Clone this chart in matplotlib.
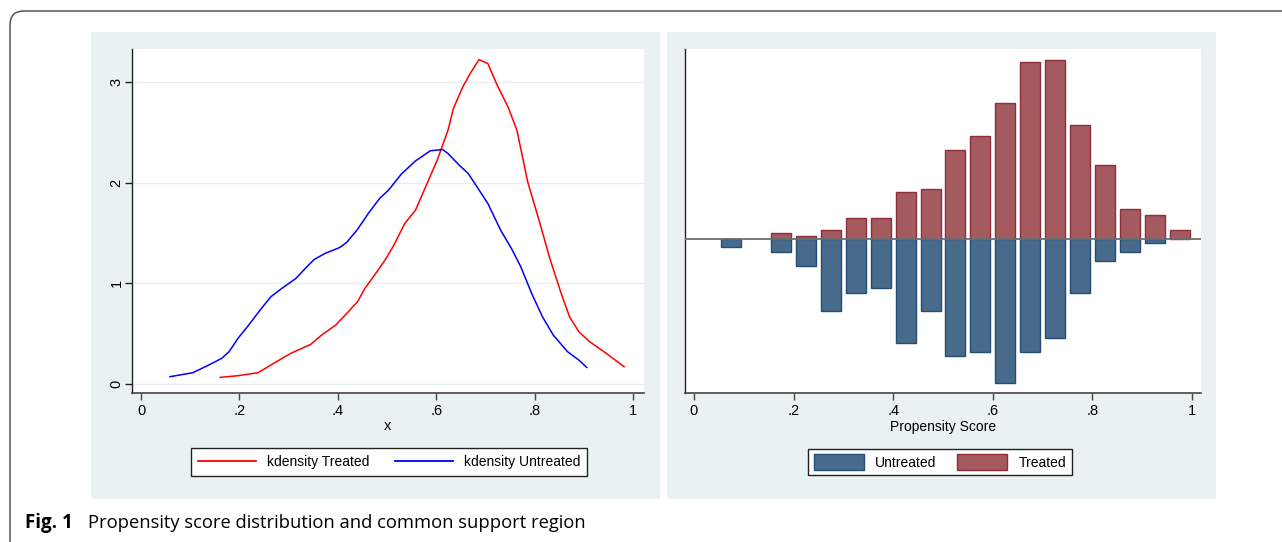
# Propensity score distribution and common support region
import matplotlib
matplotlib.use('Agg')
import matplotlib.pyplot as plt
from matplotlib.patches import Rectangle, FancyBboxPatch, Patch
from matplotlib.lines import Line2D
from matplotlib.transforms import IdentityTransform

plt.rcParams['font.family'] = ['Liberation Sans', 'DejaVu Sans']

# kdensity curves
treated_x = [0.161, 0.197, 0.238, 0.264, 0.304, 0.345, 0.367, 0.396, 0.418, 0.440,
             0.455, 0.477, 0.496, 0.514, 0.536, 0.558, 0.580, 0.602, 0.624, 0.635,
             0.654, 0.669, 0.687, 0.705, 0.724, 0.746, 0.764, 0.786, 0.809, 0.831,
             0.853, 0.871, 0.890, 0.912, 0.941, 0.982]
treated_y = [0.066, 0.083, 0.112, 0.189, 0.304, 0.394, 0.486, 0.586, 0.701, 0.817,
             0.949, 1.098, 1.231, 1.379, 1.594, 1.727, 1.975, 2.223, 2.521, 2.736,
             2.951, 3.083, 3.222, 3.182, 2.967, 2.752, 2.521, 2.008, 1.627, 1.247,
             0.916, 0.668, 0.519, 0.420, 0.321, 0.172]

untreated_x = [0.059, 0.105, 0.138, 0.164, 0.179, 0.197, 0.219, 0.242, 0.264, 0.286,
               0.315, 0.337, 0.352, 0.374, 0.404, 0.418, 0.440, 0.462, 0.485, 0.503,
               0.529, 0.558, 0.588, 0.613, 0.624, 0.647, 0.665, 0.683, 0.705, 0.731,
               0.753, 0.772, 0.794, 0.816, 0.838, 0.867, 0.890, 0.906]
untreated_y = [0.073, 0.112, 0.189, 0.255, 0.321, 0.453, 0.586, 0.734, 0.867, 0.949,
               1.049, 1.164, 1.237, 1.297, 1.356, 1.406, 1.535, 1.694, 1.843, 1.925,
               2.084, 2.216, 2.316, 2.329, 2.289, 2.173, 2.091, 1.958, 1.793, 1.528,
               1.346, 1.164, 0.900, 0.668, 0.486, 0.321, 0.238, 0.165]

# mirrored histogram
bin_mid = [0.075, 0.125, 0.175, 0.225, 0.275, 0.325, 0.375, 0.425, 0.475, 0.525,
           0.575, 0.625, 0.675, 0.725, 0.775, 0.825, 0.875, 0.925, 0.975]
treated_h = [0, 0, 0.57, 0.23, 0.83, 2.03, 2.03, 4.63, 4.93, 8.83,
             10.23, 13.53, 17.63, 17.9, 11.4, 7.33, 2.93, 2.33, 0.83]
untreated_h = [0.87, 0, 1.37, 2.77, 7.27, 5.47, 4.97, 10.4, 7.27, 11.77,
               11.37, 14.47, 11.37, 9.97, 5.47, 2.27, 1.37, 0.47, 0]

xticks = [0, 0.2, 0.4, 0.6, 0.8, 1]
xtick_labels = ['0', '.2', '.4', '.6', '.8', '1']

W, H = 1282, 542
fig = plt.figure(figsize=(W / 100, H / 100), dpi=100)
fig.patch.set_facecolor('white')

def fx(px):
    return px / W

def fy(py):
    return 1 - py / H

bg = '#eaf1f3'
# panel backgrounds
fig.patches.append(Rectangle((fx(91), fy(499)), fx(660) - fx(91), fy(32) - fy(499),
                             transform=fig.transFigure, facecolor=bg, edgecolor='none', zorder=-2))
fig.patches.append(Rectangle((fx(667), fy(499)), fx(1216) - fx(667), fy(32) - fy(499),
                             transform=fig.transFigure, facecolor=bg, edgecolor='none', zorder=-2))

# outer frame with rounded corner
fig.patches.append(FancyBboxPatch((10, -30), 1320, 531 + 30,
                                  boxstyle='round,pad=0,rounding_size=14',
                                  transform=IdentityTransform(), facecolor='none',
                                  edgecolor='#555555', linewidth=1.1, zorder=-1))

def style_axes(ax):
    ax.set_facecolor('white')
    for s in ['top', 'right']:
        ax.spines[s].set_visible(False)
    ax.spines['left'].set_color('#222222')
    ax.spines['bottom'].set_color('#444444')
    ax.spines['left'].set_linewidth(1.0)
    ax.spines['bottom'].set_linewidth(1.2)
    ax.set_xticks(xticks)
    ax.set_xticklabels(xtick_labels)
    ax.tick_params(axis='x', length=5, width=1, color='#444444', labelsize=10.5, pad=3)

# ---- left: kernel densities
ax1 = fig.add_axes([fx(132), fy(393), fx(644) - fx(132), fy(49) - fy(393)])
style_axes(ax1)
ax1.plot(treated_x, treated_y, color='#ff0000', lw=1.1, label='kdensity Treated')
ax1.plot(untreated_x, untreated_y, color='#0000ff', lw=1.1, label='kdensity Untreated')
ax1.set_xlim(-0.0183, 1.0224)
ax1.set_ylim(-0.089, 3.327)
ax1.set_yticks([0, 1, 2, 3])
ax1.set_yticklabels(['0', '1', '2', '3'], rotation=90, va='center')
ax1.tick_params(axis='y', length=5, width=1, color='#222222', labelsize=10.5, pad=1)
ax1.grid(axis='y', color='#e6eef0', lw=1.0)
ax1.set_axisbelow(True)
ax1.set_xlabel('x', fontsize=10.5, labelpad=1)

fig.legend(handles=[Line2D([], [], color='#ff0000', lw=1.3),
                    Line2D([], [], color='#0000ff', lw=1.3)],
           labels=['kdensity Treated', 'kdensity Untreated'],
           loc='center', bbox_to_anchor=(fx(389), fy(462)), ncol=2, fontsize=10,
           frameon=True, fancybox=False, edgecolor='#222222', framealpha=1,
           handlelength=4.2, columnspacing=1.8, handletextpad=0.8, borderpad=0.5)

# ---- right: mirrored histogram
ax2 = fig.add_axes([fx(685), fy(393), fx(1201) - fx(685), fy(49) - fy(393)])
style_axes(ax2)
ax2.bar(bin_mid, treated_h, width=0.04, color='#a55a60', edgecolor='#8c2f3b',
        linewidth=[1.0 if v > 0 else 0 for v in treated_h])
ax2.bar(bin_mid, [-v for v in untreated_h], width=0.04, color='#486b8b', edgecolor='#234d72',
        linewidth=[1.0 if v > 0 else 0 for v in untreated_h])
ax2.axhline(0, color='#6e6e6e', lw=1.3, zorder=5)
ax2.set_xlim(-0.018, 1.018)
ax2.set_ylim(-15.43, 18.97)
ax2.set_yticks([])
ax2.set_xlabel('Propensity Score', fontsize=10, labelpad=1)

fig.legend(handles=[Patch(facecolor='#486b8b', edgecolor='#234d72'),
                    Patch(facecolor='#a55a60', edgecolor='#8c2f3b')],
           labels=['Untreated', 'Treated'],
           loc='center', bbox_to_anchor=(fx(940), fy(462)), ncol=2, fontsize=10,
           frameon=True, fancybox=False, edgecolor='#222222', framealpha=1,
           handlelength=3.6, handleheight=1.3, columnspacing=1.5, handletextpad=0.8,
           borderpad=0.4)

# caption
fig.text(fx(25), fy(523), 'Fig. 1', fontsize=13.5, fontweight='bold', va='center',
         family=['Open Sans', 'DejaVu Sans'])
fig.text(fx(88), fy(523), 'Propensity score distribution and common support region',
         fontsize=13.2, va='center', family=['Open Sans', 'DejaVu Sans'])

fig.savefig('out.png', dpi=100)
